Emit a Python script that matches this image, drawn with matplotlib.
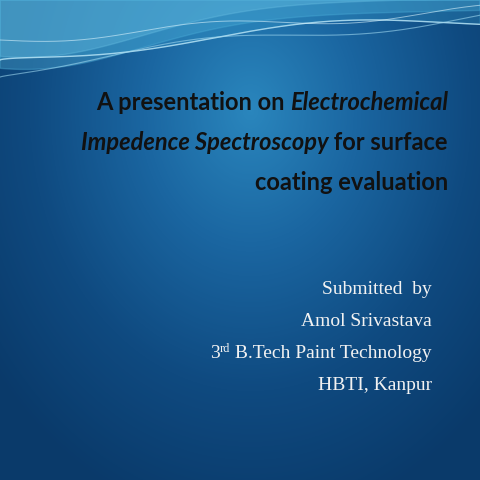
import numpy as np
import matplotlib.pyplot as plt
from matplotlib.colors import LinearSegmentedColormap

title_lines = [
    [("A presentation on ", "normal"), ("Electrochemical", "italic")],
    [("Impedence Spectroscopy", "italic"), (" for surface", "normal")],
    [("coating evaluation", "normal")],
]
title_y = [103, 143, 183]
sub_lines = ["Submitted  by", "Amol Srivastava", None, "HBTI, Kanpur"]
sub_y = [290, 322, 354, 386]

W = H = 480
fig = plt.figure(figsize=(4.8, 4.8), dpi=100)
ax = fig.add_axes([0, 0, 1, 1])
ax.set_xlim(0, W)
ax.set_ylim(H, 0)
ax.axis("off")

# background radial gradient
yy, xx = np.mgrid[0:H, 0:W]
r = np.sqrt(((xx - 250) / 330.0) ** 2 + ((yy - 110) / 420.0) ** 2)
cmap = LinearSegmentedColormap.from_list("bg", ["#2a86bd", "#1a65a0", "#0f4a80", "#0a3a6a"])
ax.imshow(np.clip(r, 0, 1), cmap=cmap, extent=(0, W, H, 0), aspect="auto", zorder=0)

# waves at the top
x = np.linspace(0, W, 400)
top = 8 + 50 * np.exp(-((x - 30) / 160) ** 2) - 0.02 * x
ax.fill_between(x, 0, top + 12, color="#55b8e0", alpha=0.35, zorder=1)
ax.fill_between(x, 0, top, color="#7fd0ee", alpha=0.35, zorder=1)
c1 = 60 - 40 * (x / W) ** 0.7 + 8 * np.sin(x / 70)
ax.fill_between(x, 0, c1, color="#3aa0d0", alpha=0.3, zorder=1)
ax.plot(x, c1, color="#bfe8f8", lw=1.0, alpha=0.8, zorder=2)
c2 = 72 - 55 * (x / W) ** 0.8 + 6 * np.sin(x / 55 + 1)
ax.plot(x, c2, color="#9fd8f0", lw=0.8, alpha=0.6, zorder=2)
c3 = 40 - 30 * (x / W) + 5 * np.sin(x / 45)
ax.plot(x, c3, color="#d8f2fc", lw=0.7, alpha=0.6, zorder=2)

fig.canvas.draw()
renderer = fig.canvas.get_renderer()
inv = ax.transData.inverted()


def draw_right(pieces, xr, y, **kw):
    for txt, style in reversed(pieces):
        t = ax.text(xr, y, txt, ha="right", va="center", style=style, **kw)
        bb = t.get_window_extent(renderer)
        x0 = inv.transform((bb.x0, bb.y0))[0]
        xr = x0


tkw = dict(family="Lato", fontweight="bold", fontsize=17, color="#111111", zorder=3)
for pieces, y in zip(title_lines, title_y):
    draw_right(pieces, 448, y, **tkw)

skw = dict(family="Liberation Serif", fontsize=14, color="#f2f2f2", zorder=3)
for txt, y in zip(sub_lines, sub_y):
    if txt:
        ax.text(432, y, txt, ha="right", va="center", **skw)

t = ax.text(432, sub_y[2], " B.Tech Paint Technology", ha="right", va="center", **skw)
bb = t.get_window_extent(renderer)
xl = inv.transform((bb.x0, bb.y0))[0]
t = ax.text(xl, sub_y[2] - 5, "rd", ha="right", va="center",
            family="Liberation Serif", fontsize=9, color="#f2f2f2", zorder=3)
bb = t.get_window_extent(renderer)
xl = inv.transform((bb.x0, bb.y0))[0]
ax.text(xl, sub_y[2], "3", ha="right", va="center", **skw)

fig.savefig("out.png", dpi=100)
